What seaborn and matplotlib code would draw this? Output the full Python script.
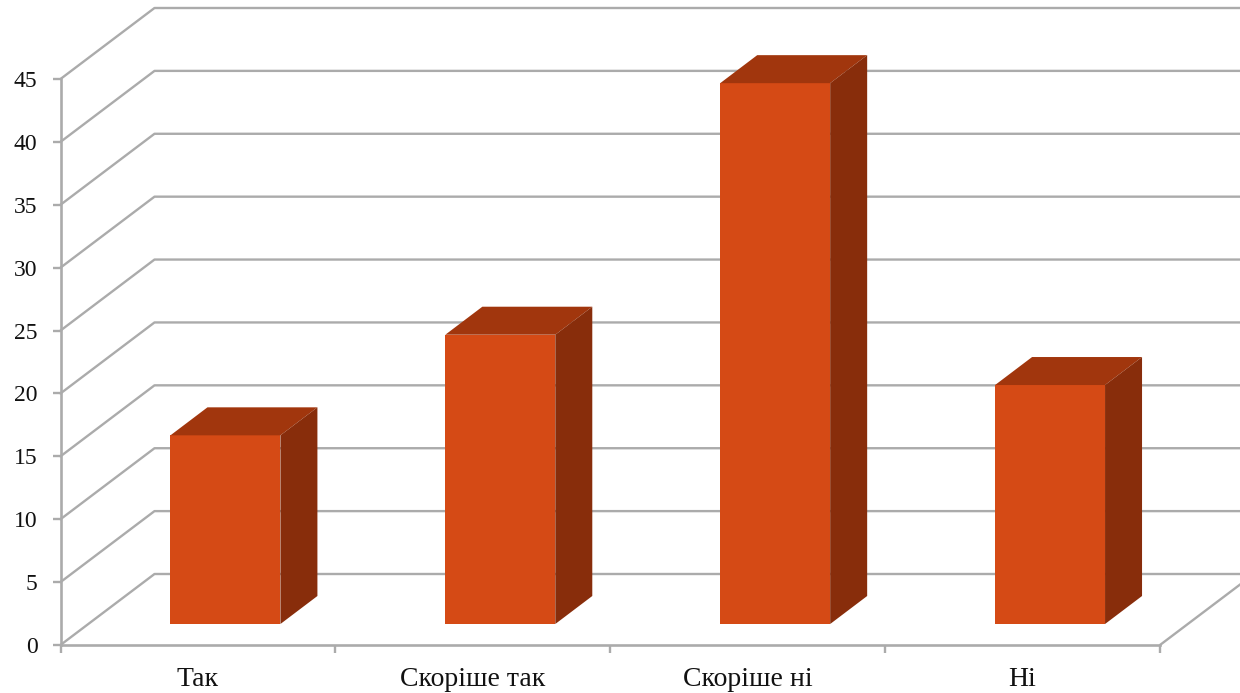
import matplotlib
matplotlib.use("Agg")
import matplotlib.pyplot as plt
from matplotlib.patches import Polygon
from matplotlib.transforms import Affine2D, IdentityTransform
import pandas as pd
import seaborn as sns

# Values
categories = ["Так", "Скоріше так", "Скоріше ні", "Ні"]
values = [15, 23, 43, 19]
y_ticks = [0, 5, 10, 15, 20, 25, 30, 35, 40, 45]

sns.set_theme(style="white")
plt.rcParams['font.family'] = ['Liberation Serif', 'DejaVu Serif']

data = pd.DataFrame({'answer': categories, 'value': values})

W, H = 1240, 693
GRID = '#ababab'
FRONT, TOP, SIDE = '#d54a15', '#a1360d', '#882d0b'

fig = plt.figure(figsize=(W / 100, H / 100), dpi=100)
ax = fig.add_axes([60.5 / W, (H - 645) / H, (1160 - 60.5) / W, (645 - 79) / H])

sns.barplot(x='answer', y='value', data=data, color=FRONT, saturation=1,
            width=0.4, errorbar=None, ax=ax, zorder=3)
ax.set_xlim(-0.5, 3.5)
ax.set_ylim(0, 45)
ax.set_xlabel("")
ax.set_ylabel("")

# offsets in pixels for the fake 3d look
shift = Affine2D().translate(27.5, 21)
depth = (37, 28)

# back wall and left wall lines
for v in y_ticks:
    x0, y0 = ax.transData.transform((-0.5, v))
    x1, y1 = ax.transData.transform((3.5, v))
    ax.add_line(plt.Line2D([x0, x0 + 94, x1 + 94], [y0, y0 + 71, y1 + 71],
                           transform=IdentityTransform(), color=GRID, lw=1.7,
                           clip_on=False, zorder=1))
# floor edge on the right
x1, y1 = ax.transData.transform((3.5, 0))
ax.add_line(plt.Line2D([x1, x1 + 94], [y1, y1 + 71], transform=IdentityTransform(),
                       color=GRID, lw=1.7, clip_on=False, zorder=1))

# move the bars back and add top and side faces
for bar in ax.patches:
    left, right = bar.get_x(), bar.get_x() + bar.get_width()
    bar.set_transform(ax.transData + shift)
    bar.set_clip_on(False)
    bar.set_linewidth(0)
    bl = shift.transform(ax.transData.transform((left, 0)))
    tl = shift.transform(ax.transData.transform((left, bar.get_height())))
    br = shift.transform(ax.transData.transform((right, 0)))
    tr = shift.transform(ax.transData.transform((right, bar.get_height())))
    top = [tl, tr, tr + depth, tl + depth]
    side = [br, tr, tr + depth, br + depth]
    ax.add_patch(Polygon(top, closed=True, facecolor=TOP, lw=0,
                         transform=IdentityTransform(), clip_on=False, zorder=3))
    ax.add_patch(Polygon(side, closed=True, facecolor=SIDE, lw=0,
                         transform=IdentityTransform(), clip_on=False, zorder=3))

for name in ['top', 'right']:
    ax.spines[name].set_visible(False)
for name in ['left', 'bottom']:
    ax.spines[name].set_color(GRID)
    ax.spines[name].set_linewidth(1.9)
    ax.spines[name].set_zorder(2)

ax.set_yticks(y_ticks)
ax.tick_params(axis='y', left=True, length=5.5, width=1.7, color=GRID, pad=11,
               labelsize=17, labelcolor='#111111')
ax.set_xticks(range(len(categories)))
ax.set_xticklabels(categories)
ax.set_xticks([-0.5, 0.5, 1.5, 2.5, 3.5], minor=True)
ax.tick_params(axis='x', which='major', bottom=False, pad=10, labelsize=20,
               labelcolor='#111111')
ax.tick_params(axis='x', which='minor', bottom=True, length=5.5, width=1.7, color=GRID)

fig.savefig("out.png", dpi=100)
